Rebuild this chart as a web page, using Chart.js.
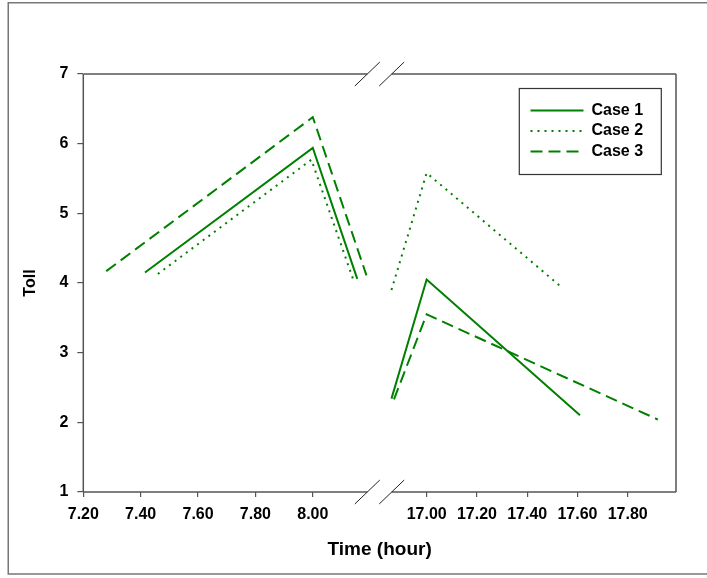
<!DOCTYPE html>
<html>
<head>
<meta charset="utf-8">
<script src="https://cdn.jsdelivr.net/npm/chart.js@4.4.1/dist/chart.umd.min.js"></script>
<style>
  html, body { margin: 0; padding: 0; background: #fff; }
  #wrap { width: 707px; height: 578px; }
</style>
</head>
<body>
<div id="wrap"><canvas id="grafico" width="707" height="578"></canvas></div>
<script>
// morning peak (left part of the broken axis)
var amTime1 = [7.415, 8.00, 8.155];
var amToll1 = [4.15, 5.94, 4.06];
var amTime2 = [7.46, 7.995, 8.14];
var amToll2 = [4.13, 5.77, 4.06];
var amTime3 = [7.28, 8.00, 8.187];
var amToll3 = [4.17, 6.38, 4.11];

// evening peak (right part of the broken axis)
var pmTime1 = [16.86, 17.00, 17.61];
var pmToll1 = [2.34, 4.05, 2.10];
var pmTime2 = [16.86, 17.00, 17.54];
var pmToll2 = [3.90, 5.58, 3.93];
var pmTime3 = [16.87, 17.00, 17.92];
var pmToll3 = [2.33, 3.55, 2.04];

var caseLabels = ['Case 1', 'Case 2', 'Case 3'];
var amTicks = [7.2, 7.4, 7.6, 7.8, 8.0];
var pmTicks = [17.0, 17.2, 17.4, 17.6, 17.8];
var tollTicks = [1, 2, 3, 4, 5, 6, 7];

// where the axis is cut
var breakAm = 8.19;
var breakPm = 16.861;

var verde = '#008000';
var tracos = [[], [2, 5], [12, 6]];

Chart.defaults.font.family = "'Liberation Sans', Arial, sans-serif";
Chart.defaults.color = '#000';

function pontos(xs, ys) {
  return xs.map(function (x, i) { return { x: x, y: ys[i] }; });
}

function serie(i, xs, ys, eixo) {
  return {
    label: caseLabels[i],
    data: pontos(xs, ys),
    xAxisID: eixo,
    borderColor: verde,
    backgroundColor: verde,
    borderWidth: 2,
    borderDash: tracos[i],
    borderJoinStyle: 'miter',
    pointRadius: 0,
    pointHoverRadius: 0,
    tension: 0,
    fill: false
  };
}

var moldura = {
  id: 'moldura',
  afterLayout: function (chart) {
    var lg = chart.legend;
    lg.left = 526;
    lg.top = 98;
    lg.right = lg.left + 140;
    lg.bottom = lg.top + 80;
  },
  afterDraw: function (chart) {
    var ctx = chart.ctx, a = chart.chartArea;
    var q1 = chart.scales.xAm.getPixelForValue(breakAm);
    var q2 = chart.scales.xPm.getPixelForValue(breakPm);
    ctx.save();
    // plot frame with the gap
    ctx.strokeStyle = '#555';
    ctx.lineWidth = 1.5;
    ctx.beginPath();
    ctx.moveTo(a.left, a.top); ctx.lineTo(a.left, a.bottom);
    ctx.moveTo(a.right, a.top); ctx.lineTo(a.right, a.bottom);
    [a.top, a.bottom].forEach(function (y) {
      ctx.moveTo(a.left, y); ctx.lineTo(q1, y);
      ctx.moveTo(q2, y); ctx.lineTo(a.right, y);
    });
    ctx.stroke();
    // break slashes
    ctx.strokeStyle = '#222';
    ctx.lineWidth = 1;
    ctx.beginPath();
    [a.top, a.bottom].forEach(function (y) {
      [q1, q2].forEach(function (x) {
        ctx.moveTo(x - 12.5, y + 12); ctx.lineTo(x + 12.5, y - 12);
      });
    });
    ctx.stroke();
    // legend box
    var lg = chart.legend;
    ctx.strokeStyle = '#333';
    ctx.lineWidth = 1.2;
    ctx.strokeRect(lg.left - 6.7, lg.top - 9.5, 142, 86);
    // outer frame of the figure
    ctx.strokeStyle = '#777';
    ctx.lineWidth = 1.5;
    ctx.beginPath();
    ctx.moveTo(710, 2.75); ctx.lineTo(8.25, 2.75); ctx.lineTo(8.25, 574); ctx.lineTo(710, 574);
    ctx.stroke();
    ctx.restore();
  }
};

function eixoX(min, max, marcas) {
  return {
    type: 'linear',
    position: 'bottom',
    stack: 'tempo',
    stackWeight: 1,
    min: min,
    max: max,
    afterBuildTicks: function (scale) {
      scale.ticks = marcas.map(function (v) { return { value: v }; });
    },
    afterFit: function (scale) { scale.height = 46.6; },
    border: { display: false },
    grid: { drawOnChartArea: false, drawTicks: true, tickLength: 5, color: '#555', lineWidth: 1.2 },
    ticks: {
      autoSkip: false,
      maxRotation: 0,
      padding: 8,
      color: '#000',
      font: { size: 16, weight: 'bold' },
      callback: function (v) { return Number(v).toFixed(2); }
    }
  };
}

new Chart(document.getElementById('grafico'), {
  type: 'line',
  data: {
    datasets: [
      serie(0, amTime1, amToll1, 'xAm'),
      serie(1, amTime2, amToll2, 'xAm'),
      serie(2, amTime3, amToll3, 'xAm'),
      serie(0, pmTime1, pmToll1, 'xPm'),
      serie(1, pmTime2, pmToll2, 'xPm'),
      serie(2, pmTime3, pmToll3, 'xPm')
    ]
  },
  options: {
    responsive: false,
    animation: false,
    devicePixelRatio: 1,
    layout: { padding: { left: 0, top: 74, right: 31, bottom: 16.6 } },
    scales: {
      xAm: eixoX(7.2, 8.233, amTicks),
      xPm: eixoX(16.813, 17.992, pmTicks),
      y: {
        type: 'linear',
        min: 1,
        max: 7,
        afterBuildTicks: function (scale) {
          scale.ticks = tollTicks.map(function (v) { return { value: v }; });
        },
        afterFit: function (scale) { scale.width = 83.3; },
        border: { display: false },
        grid: { drawOnChartArea: false, drawTicks: true, tickLength: 6, color: '#555', lineWidth: 1.2 },
        ticks: { padding: 9, color: '#000', font: { size: 16, weight: 'bold' } },
        title: {
          display: true,
          text: 'Toll',
          color: '#000',
          padding: { top: 20.5, bottom: 0 },
          font: { size: 16, weight: 'bold' }
        }
      }
    },
    plugins: {
      legend: {
        position: 'chartArea',
        align: 'start',
        labels: {
          usePointStyle: true,
          pointStyle: 'line',
          pointStyleWidth: 53,
          padding: 4.5,
          color: '#000',
          font: { size: 16, weight: 'bold' },
          generateLabels: function (chart) {
            var itens = Chart.defaults.plugins.legend.labels.generateLabels(chart);
            return itens.map(function (item) {
              var ds = chart.data.datasets[item.datasetIndex];
              item.lineDash = ds.borderDash;
              item.lineWidth = ds.borderWidth;
              item.strokeStyle = ds.borderColor;
              item.pointStyle = 'line';
              return item;
            });
          },
          filter: function (item, data) {
            return data.datasets[item.datasetIndex].xAxisID === 'xAm';
          }
        }
      },
      title: {
        display: true,
        text: 'Time (hour)',
        position: 'bottom',
        fullSize: false,
        color: '#000',
        padding: { top: 0, bottom: 0 },
        font: { size: 19, weight: 'bold' }
      },
      tooltip: { enabled: false }
    }
  },
  plugins: [moldura]
});
</script>
</body>
</html>
